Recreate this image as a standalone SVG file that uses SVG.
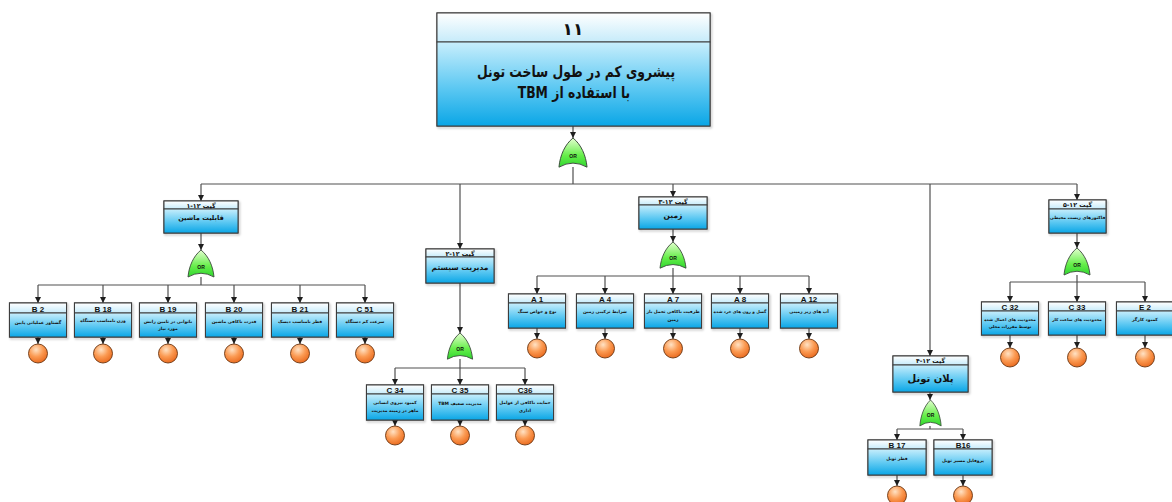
<svg xmlns="http://www.w3.org/2000/svg" xmlns:xlink="http://www.w3.org/1999/xlink" width="1172" height="502" viewBox="0 0 1172 502">
  <defs>
    <linearGradient id="gHead" x1="0" y1="0" x2="0" y2="1">
      <stop offset="0" stop-color="#ffffff"/>
      <stop offset="1" stop-color="#c6ebfa"/>
    </linearGradient>
    <linearGradient id="gBody" x1="0" y1="0" x2="0" y2="1">
      <stop offset="0" stop-color="#c8eefc"/>
      <stop offset="0.55" stop-color="#5cc8f2"/>
      <stop offset="1" stop-color="#0aa6e6"/>
    </linearGradient>
    <linearGradient id="gGate" x1="0" y1="0" x2="0" y2="1">
      <stop offset="0" stop-color="#e4ffd0"/>
      <stop offset="0.6" stop-color="#66ee4a"/>
      <stop offset="1" stop-color="#2fd62f"/>
    </linearGradient>
    <radialGradient id="gEvent" cx="0.4" cy="0.3" r="0.75">
      <stop offset="0" stop-color="#ffe2c4"/>
      <stop offset="0.5" stop-color="#fb9a52"/>
      <stop offset="1" stop-color="#e8661a"/>
    </radialGradient>
    <filter id="shadow" x="-10%" y="-10%" width="130%" height="140%">
      <feDropShadow dx="1.2" dy="1.5" stdDeviation="0.8" flood-color="#000" flood-opacity="0.35"/>
    </filter>
    <marker id="arrow" markerWidth="6" markerHeight="6" refX="6" refY="3" orient="auto" markerUnits="userSpaceOnUse">
      <path d="M0,0 L6,3 L0,6 Z" fill="#1e1e1e"/>
    </marker>
    <!-- OR gate outline, origin at the top tip, 26 wide and 27 tall -->
    <path id="orShape" d="M0,0 C7.5,6 12,16 13,27 Q0,19.5 -13,27 C-12,16 -7.5,6 0,0 Z"/>
    <style>
      .hd { fill: url(#gHead); stroke: #3d3d3d; stroke-width: 1; }
      .bd { fill: url(#gBody); stroke: #3d3d3d; stroke-width: 1; }
      .frame { fill: none; stroke: #3d3d3d; stroke-width: 1.2; filter: url(#shadow); }
      .gate use { fill: url(#gGate); stroke: #3a4a3a; stroke-width: 0.9; }
      .ev { fill: url(#gEvent); stroke: #6a3410; stroke-width: 0.9; }
      .conn { fill: none; stroke: #505050; stroke-width: 1.2; }
      .fa { font-family: "DejaVu Sans", "Noto Sans", sans-serif; font-weight: bold; fill: #111; text-anchor: middle; direction: rtl; }
      .id { font-family: "Liberation Sans", Arial, sans-serif; font-weight: bold; fill: #111; text-anchor: middle; font-size: 8px; }
      .ortxt { font-family: "Liberation Sans", Arial, sans-serif; font-weight: bold; fill: #111; text-anchor: middle; font-size: 5px; }
      .lt { font-size: 4.4px; }
      .lt.narrow { font-size: 4.1px; }
      .gh { font-size: 6.3px; }
      .gb { font-size: 6.6px; }
    </style>
  </defs>

  <rect width="1172" height="502" fill="#ffffff"/>

  <!-- connectors -->
  <g id="connectors" class="conn">
    <!-- top event -->
    <path d="M573,126 V138" marker-end="url(#arrow)"/>
    <path d="M573,167 V184 M201,184 H1077"/>
    <path d="M201,184 V201" marker-end="url(#arrow)"/>
    <path d="M460,184 V249" marker-end="url(#arrow)"/>
    <path d="M673,184 V197" marker-end="url(#arrow)"/>
    <path d="M930,184 V356" marker-end="url(#arrow)"/>
    <path d="M1077,184 V200" marker-end="url(#arrow)"/>

    <!-- gate 12-1 -->
    <path d="M201,233 V250" marker-end="url(#arrow)"/>
    <path d="M201,277 V285 M38,285 H365"/>
    <path d="M38,285 V303" marker-end="url(#arrow)"/>
    <path d="M103,285 V303" marker-end="url(#arrow)"/>
    <path d="M168,285 V303" marker-end="url(#arrow)"/>
    <path d="M234,285 V303" marker-end="url(#arrow)"/>
    <path d="M300,285 V303" marker-end="url(#arrow)"/>
    <path d="M365,285 V303" marker-end="url(#arrow)"/>
    <path d="M38,337 V344" marker-end="url(#arrow)"/>
    <path d="M103,337 V344" marker-end="url(#arrow)"/>
    <path d="M168,337 V344" marker-end="url(#arrow)"/>
    <path d="M234,337 V344" marker-end="url(#arrow)"/>
    <path d="M300,337 V344" marker-end="url(#arrow)"/>
    <path d="M365,337 V344" marker-end="url(#arrow)"/>

    <!-- gate 12-2 -->
    <path d="M460,283 V333" marker-end="url(#arrow)"/>
    <path d="M460,359 V368 M395,368 H525"/>
    <path d="M395,368 V385" marker-end="url(#arrow)"/>
    <path d="M460,368 V385" marker-end="url(#arrow)"/>
    <path d="M525,368 V385" marker-end="url(#arrow)"/>
    <path d="M395,420 V426" marker-end="url(#arrow)"/>
    <path d="M460,420 V426" marker-end="url(#arrow)"/>
    <path d="M525,420 V426" marker-end="url(#arrow)"/>

    <!-- gate 12-3 -->
    <path d="M673,229 V242" marker-end="url(#arrow)"/>
    <path d="M673,268 V276 M537,276 H809"/>
    <path d="M537,276 V294" marker-end="url(#arrow)"/>
    <path d="M605,276 V294" marker-end="url(#arrow)"/>
    <path d="M673,276 V294" marker-end="url(#arrow)"/>
    <path d="M740,276 V294" marker-end="url(#arrow)"/>
    <path d="M809,276 V294" marker-end="url(#arrow)"/>
    <path d="M537,328 V339" marker-end="url(#arrow)"/>
    <path d="M605,328 V339" marker-end="url(#arrow)"/>
    <path d="M673,328 V339" marker-end="url(#arrow)"/>
    <path d="M740,328 V339" marker-end="url(#arrow)"/>
    <path d="M809,328 V339" marker-end="url(#arrow)"/>

    <!-- gate 12-4 -->
    <path d="M930,392 V400" marker-end="url(#arrow)"/>
    <path d="M930,426 V429 M897,429 H963"/>
    <path d="M897,429 V440" marker-end="url(#arrow)"/>
    <path d="M963,429 V440" marker-end="url(#arrow)"/>
    <path d="M897,475 V486" marker-end="url(#arrow)"/>
    <path d="M963,475 V486" marker-end="url(#arrow)"/>

    <!-- gate 12-5 -->
    <path d="M1077,233 V248" marker-end="url(#arrow)"/>
    <path d="M1077,275 V282 M1010,282 H1145"/>
    <path d="M1010,282 V302" marker-end="url(#arrow)"/>
    <path d="M1077,282 V302" marker-end="url(#arrow)"/>
    <path d="M1145,282 V302" marker-end="url(#arrow)"/>
    <path d="M1010,335 V348" marker-end="url(#arrow)"/>
    <path d="M1077,335 V348" marker-end="url(#arrow)"/>
    <path d="M1145,335 V348" marker-end="url(#arrow)"/>
  </g>

  <!-- top event -->
  <g id="top-event">
    <rect class="frame" x="437" y="13" width="273" height="113"/>
    <rect class="hd" x="437" y="13" width="273" height="29"/>
    <rect class="bd" x="437" y="42" width="273" height="84"/>
    <text class="fa" x="573" y="35" font-size="17">۱۱</text>
    <text class="fa" x="0" y="77" font-size="15.5" transform="translate(576,0) scale(0.8,1)">پیشروی کم در طول ساخت تونل</text>
    <text class="fa" x="0" y="98" font-size="15.5" transform="translate(574,0) scale(0.8,1)">با استفاده از TBM</text>
  </g>
  <g id="gate-top" class="gate">
    <use xlink:href="#orShape" transform="translate(573,138) scale(1.08)"/>
    <text class="ortxt" x="573" y="158">OR</text>
  </g>

  <!-- gate 12-1 : machine capability -->
  <g id="gate-12-1">
    <rect class="frame" x="164" y="201" width="74" height="32"/>
    <rect class="hd" x="164" y="201" width="74" height="8"/>
    <rect class="bd" x="164" y="209" width="74" height="24"/>
    <text class="fa gh" x="201" y="207.5">گیت ۱۲&#x200F;-&#x200F;۱</text>
    <text class="fa gb" x="201" y="220">قابلیت ماشین</text>
  </g>
  <g id="or-12-1" class="gate">
    <use xlink:href="#orShape" transform="translate(201,250)"/>
    <text class="ortxt" x="201" y="269">OR</text>
  </g>

  <g id="B2">
    <rect class="frame" x="9.5" y="303" width="57" height="34"/>
    <rect class="hd" x="9.5" y="303" width="57" height="10"/>
    <rect class="bd" x="9.5" y="313" width="57" height="24"/>
    <text class="id" x="38" y="311.5">B 2</text>
    <text class="fa lt" x="38" y="323.5">گشتاور عملیاتی پایین</text>
    <circle class="ev" cx="38" cy="353.5" r="9.5"/>
  </g>
  <g id="B18">
    <rect class="frame" x="74.5" y="303" width="57" height="34"/>
    <rect class="hd" x="74.5" y="303" width="57" height="10"/>
    <rect class="bd" x="74.5" y="313" width="57" height="24"/>
    <text class="id" x="103" y="311.5">B 18</text>
    <text class="fa lt" x="103" y="321.5">وزن نامناسب دستگاه</text>
    <circle class="ev" cx="103" cy="353.5" r="9.5"/>
  </g>
  <g id="B19">
    <rect class="frame" x="139.5" y="303" width="57" height="34"/>
    <rect class="hd" x="139.5" y="303" width="57" height="10"/>
    <rect class="bd" x="139.5" y="313" width="57" height="24"/>
    <text class="id" x="168" y="311.5">B 19</text>
    <text class="fa lt" x="168" y="322.5">ناتوانی در تامین رانش</text>
    <text class="fa lt" x="168" y="330">مورد نیاز</text>
    <circle class="ev" cx="168" cy="353.5" r="9.5"/>
  </g>
  <g id="B20">
    <rect class="frame" x="205.5" y="303" width="57" height="34"/>
    <rect class="hd" x="205.5" y="303" width="57" height="10"/>
    <rect class="bd" x="205.5" y="313" width="57" height="24"/>
    <text class="id" x="234" y="311.5">B 20</text>
    <text class="fa lt" x="234" y="322.5">قدرت ناکافی ماشین</text>
    <circle class="ev" cx="234" cy="353.5" r="9.5"/>
  </g>
  <g id="B21">
    <rect class="frame" x="271.5" y="303" width="57" height="34"/>
    <rect class="hd" x="271.5" y="303" width="57" height="10"/>
    <rect class="bd" x="271.5" y="313" width="57" height="24"/>
    <text class="id" x="300" y="311.5">B 21</text>
    <text class="fa lt" x="300" y="322.5">قطر نامناسب دیسک</text>
    <circle class="ev" cx="300" cy="353.5" r="9.5"/>
  </g>
  <g id="C51">
    <rect class="frame" x="336.5" y="303" width="57" height="34"/>
    <rect class="hd" x="336.5" y="303" width="57" height="10"/>
    <rect class="bd" x="336.5" y="313" width="57" height="24"/>
    <text class="id" x="365" y="311.5">C 51</text>
    <text class="fa lt" x="365" y="322.5">سرعت کم دستگاه</text>
    <circle class="ev" cx="365" cy="353.5" r="9.5"/>
  </g>

  <!-- gate 12-2 : system management -->
  <g id="gate-12-2">
    <rect class="frame" x="426" y="249" width="68" height="34"/>
    <rect class="hd" x="426" y="249" width="68" height="8"/>
    <rect class="bd" x="426" y="257" width="68" height="26"/>
    <text class="fa gh" x="460" y="255.5">گیت ۱۲&#x200F;-&#x200F;۲</text>
    <text class="fa" x="460" y="270" font-size="7.5">مدیریت سیستم</text>
  </g>
  <g id="or-12-2" class="gate">
    <use xlink:href="#orShape" transform="translate(460,333) scale(0.97,0.97)"/>
    <text class="ortxt" x="460" y="351">OR</text>
  </g>

  <g id="C34">
    <rect class="frame" x="366.5" y="385" width="57" height="35"/>
    <rect class="hd" x="366.5" y="385" width="57" height="9"/>
    <rect class="bd" x="366.5" y="394" width="57" height="26"/>
    <text class="id" x="395" y="392.5">C 34</text>
    <text class="fa lt" x="395" y="404">کمبود نیروی انسانی</text>
    <text class="fa lt" x="395" y="411.5">ماهر در زمینه مدیریت</text>
    <circle class="ev" cx="395" cy="435.5" r="9.5"/>
  </g>
  <g id="C35">
    <rect class="frame" x="431.5" y="385" width="57" height="35"/>
    <rect class="hd" x="431.5" y="385" width="57" height="9"/>
    <rect class="bd" x="431.5" y="394" width="57" height="26"/>
    <text class="id" x="460" y="392.5">C 35</text>
    <text class="fa lt" x="460" y="404.5">مدیریت ضعیف TBM</text>
    <circle class="ev" cx="460" cy="435.5" r="9.5"/>
  </g>
  <g id="C36">
    <rect class="frame" x="496.5" y="385" width="57" height="35"/>
    <rect class="hd" x="496.5" y="385" width="57" height="9"/>
    <rect class="bd" x="496.5" y="394" width="57" height="26"/>
    <text class="id" x="525" y="392.5">C36</text>
    <text class="fa lt" x="525" y="404">حمایت ناکافی از عوامل</text>
    <text class="fa lt" x="525" y="411.5">اداری</text>
    <circle class="ev" cx="525" cy="435.5" r="9.5"/>
  </g>

  <!-- gate 12-3 : ground -->
  <g id="gate-12-3">
    <rect class="frame" x="639" y="197" width="68" height="32"/>
    <rect class="hd" x="639" y="197" width="68" height="8"/>
    <rect class="bd" x="639" y="205" width="68" height="24"/>
    <text class="fa gh" x="673" y="203.5">گیت ۱۲&#x200F;-&#x200F;۳</text>
    <text class="fa" x="673" y="218" font-size="7.5">زمین</text>
  </g>
  <g id="or-12-3" class="gate">
    <use xlink:href="#orShape" transform="translate(673,242) scale(1,0.97)"/>
    <text class="ortxt" x="673" y="260">OR</text>
  </g>

  <g id="A1">
    <rect class="frame" x="508.5" y="294" width="57" height="34"/>
    <rect class="hd" x="508.5" y="294" width="57" height="9"/>
    <rect class="bd" x="508.5" y="303" width="57" height="25"/>
    <text class="id" x="537" y="301.5">A 1</text>
    <text class="fa lt" x="537" y="313">نوع و خواص سنگ</text>
    <circle class="ev" cx="537" cy="348.5" r="9.5"/>
  </g>
  <g id="A4">
    <rect class="frame" x="576.5" y="294" width="57" height="34"/>
    <rect class="hd" x="576.5" y="294" width="57" height="9"/>
    <rect class="bd" x="576.5" y="303" width="57" height="25"/>
    <text class="id" x="605" y="301.5">A 4</text>
    <text class="fa lt" x="605" y="313">شرایط ترکیبی زمین</text>
    <circle class="ev" cx="605" cy="348.5" r="9.5"/>
  </g>
  <g id="A7">
    <rect class="frame" x="644.5" y="294" width="57" height="34"/>
    <rect class="hd" x="644.5" y="294" width="57" height="9"/>
    <rect class="bd" x="644.5" y="303" width="57" height="25"/>
    <text class="id" x="673" y="301.5">A  7</text>
    <text class="fa lt" x="673" y="313">ظرفیت ناکافی تحمل بار</text>
    <text class="fa lt" x="673" y="320.5">زمین</text>
    <circle class="ev" cx="673" cy="348.5" r="9.5"/>
  </g>
  <g id="A8">
    <rect class="frame" x="711.5" y="294" width="57" height="34"/>
    <rect class="hd" x="711.5" y="294" width="57" height="9"/>
    <rect class="bd" x="711.5" y="303" width="57" height="25"/>
    <text class="id" x="740" y="301.5">A 8</text>
    <text class="fa lt narrow" x="740" y="313">گسل و زون های خرد شده</text>
    <circle class="ev" cx="740" cy="348.5" r="9.5"/>
  </g>
  <g id="A12">
    <rect class="frame" x="780.5" y="294" width="57" height="34"/>
    <rect class="hd" x="780.5" y="294" width="57" height="9"/>
    <rect class="bd" x="780.5" y="303" width="57" height="25"/>
    <text class="id" x="809" y="301.5">A 12</text>
    <text class="fa lt" x="809" y="313">آب های زیر زمینی</text>
    <circle class="ev" cx="809" cy="348.5" r="9.5"/>
  </g>

  <!-- gate 12-4 : tunnel plan -->
  <g id="gate-12-4">
    <rect class="frame" x="893" y="356" width="75" height="36"/>
    <rect class="hd" x="893" y="356" width="75" height="9"/>
    <rect class="bd" x="893" y="365" width="75" height="27"/>
    <text class="fa gh" x="930.5" y="363">گیت ۱۲&#x200F;-&#x200F;۴</text>
    <text class="fa" x="930.5" y="381.5" font-size="10">پلان تونل</text>
  </g>
  <g id="or-12-4" class="gate">
    <use xlink:href="#orShape" transform="translate(930.5,400) scale(0.82,0.96)"/>
    <text class="ortxt" x="930.5" y="417">OR</text>
  </g>

  <g id="B17">
    <rect class="frame" x="868" y="440" width="58" height="35"/>
    <rect class="hd" x="868" y="440" width="58" height="9"/>
    <rect class="bd" x="868" y="449" width="58" height="26"/>
    <text class="id" x="897" y="447.5">B 17</text>
    <text class="fa lt" x="897" y="459.5">قطر تونل</text>
    <circle class="ev" cx="897" cy="495.5" r="9.5"/>
  </g>
  <g id="B16">
    <rect class="frame" x="934" y="440" width="58" height="35"/>
    <rect class="hd" x="934" y="440" width="58" height="9"/>
    <rect class="bd" x="934" y="449" width="58" height="26"/>
    <text class="id" x="963" y="447.5">B16</text>
    <text class="fa lt" x="963" y="461.5">پروفایل مسیر تونل</text>
    <circle class="ev" cx="963" cy="495.5" r="9.5"/>
  </g>

  <!-- gate 12-5 : environmental factors -->
  <g id="gate-12-5">
    <rect class="frame" x="1049" y="200" width="57" height="33"/>
    <rect class="hd" x="1049" y="200" width="57" height="9"/>
    <rect class="bd" x="1049" y="209" width="57" height="24"/>
    <text class="fa gh" x="1077.5" y="207">گیت ۱۲&#x200F;-&#x200F;۵</text>
    <text class="fa lt" x="1077.5" y="218.5">فاکتورهای زیست محیطی</text>
  </g>
  <g id="or-12-5" class="gate">
    <use xlink:href="#orShape" transform="translate(1077,248)"/>
    <text class="ortxt" x="1077" y="267">OR</text>
  </g>

  <g id="C32">
    <rect class="frame" x="981.5" y="302" width="57" height="33"/>
    <rect class="hd" x="981.5" y="302" width="57" height="9"/>
    <rect class="bd" x="981.5" y="311" width="57" height="24"/>
    <text class="id" x="1010" y="309.5">C 32</text>
    <text class="fa lt narrow" x="1010" y="320.5">محدودیت های اعمال شده</text>
    <text class="fa lt narrow" x="1010" y="328">توسط مقررات محلی</text>
    <circle class="ev" cx="1010" cy="357.5" r="9.5"/>
  </g>
  <g id="C33">
    <rect class="frame" x="1048.5" y="302" width="57" height="33"/>
    <rect class="hd" x="1048.5" y="302" width="57" height="9"/>
    <rect class="bd" x="1048.5" y="311" width="57" height="24"/>
    <text class="id" x="1077" y="309.5">C 33</text>
    <text class="fa lt narrow" x="1077" y="320.5">محدودیت های ساعت کار</text>
    <circle class="ev" cx="1077" cy="357.5" r="9.5"/>
  </g>
  <g id="E2">
    <rect class="frame" x="1116.5" y="302" width="57" height="33"/>
    <rect class="hd" x="1116.5" y="302" width="57" height="9"/>
    <rect class="bd" x="1116.5" y="311" width="57" height="24"/>
    <text class="id" x="1145" y="309.5">E 2</text>
    <text class="fa lt" x="1145" y="321">کمبود کارگر</text>
    <circle class="ev" cx="1145" cy="357.5" r="9.5"/>
  </g>
</svg>
